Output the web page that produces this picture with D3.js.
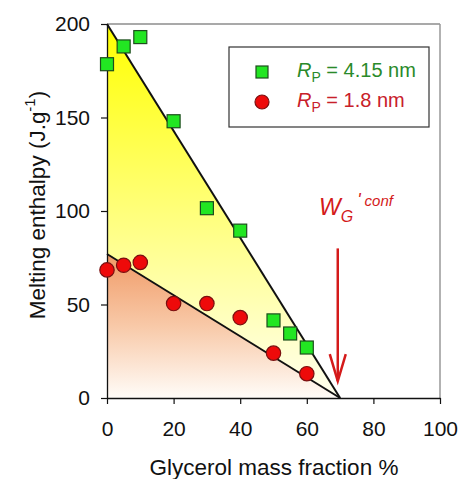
<!DOCTYPE html>
<html><head><meta charset="utf-8">
<script src="https://cdn.jsdelivr.net/npm/d3@7"></script>
<style>body{margin:0;background:#fff}svg{display:block;font-family:"Liberation Sans",Arial,sans-serif}</style>
</head><body><svg id="c" width="461" height="479"></svg>
<script>
const xTicks = [0, 20, 40, 60, 80, 100];
const yTicks = [0, 50, 100, 150, 200];
const xLarge = [0, 5, 10, 20, 30, 40, 50, 55, 60];
const yLarge = [178.5, 188, 193, 148, 101.5, 89.5, 41.5, 34.5, 27];
const xSmall = [0, 5, 10, 20, 30, 40, 50, 60];
const ySmall = [68.5, 71, 72.5, 50.5, 50.5, 43, 24, 13];
const fitLarge = [[0, 200], [70, 0]];
const fitSmall = [[0, 77], [70, 0]];
const arrowX = 69.3, arrowTop = 80, arrowTip = 9;
const seriesNames = ["4.15 nm", "1.8 nm"];

const svg = d3.select("#c");
const x = d3.scaleLinear().domain([0, 100]).range([107, 440]);
const y = d3.scaleLinear().domain([0, 200]).range([398, 24]);

const defs = svg.append("defs");
const gy = defs.append("linearGradient").attr("id","gy").attr("x1",0).attr("y1",0).attr("x2",0).attr("y2",1);
gy.append("stop").attr("offset","0%").attr("stop-color","#ffff00");
gy.append("stop").attr("offset","50%").attr("stop-color","#ffff7a");
gy.append("stop").attr("offset","100%").attr("stop-color","#fffff0");
const go = defs.append("linearGradient").attr("id","go").attr("x1",0).attr("y1",0).attr("x2",0).attr("y2",1);
go.append("stop").attr("offset","0%").attr("stop-color","#f09a66");
go.append("stop").attr("offset","50%").attr("stop-color","#f8c9a8");
go.append("stop").attr("offset","100%").attr("stop-color","#fffcf8");

const area = d3.line().x(d=>x(d[0])).y(d=>y(d[1]));
svg.append("path").attr("d", area([[0,0], ...fitLarge])+"Z").attr("fill","url(#gy)");
svg.append("path").attr("d", area([[0,0], ...fitSmall])+"Z").attr("fill","url(#go)");

// frame
svg.append("line").attr("x1",x(0)).attr("x2",x(100)).attr("y1",y(200)).attr("y2",y(200)).attr("stroke","#555").attr("stroke-width",1.2);
svg.append("line").attr("x1",x(100)).attr("x2",x(100)).attr("y1",y(200)).attr("y2",y(0)).attr("stroke","#999").attr("stroke-width",1.5);

// axes
const xa = svg.append("g").attr("transform",`translate(0,${y(0)})`)
  .call(d3.axisBottom(x).tickValues(xTicks).tickSize(6).tickPadding(17).tickSizeOuter(0));
const ya = svg.append("g").attr("transform",`translate(${x(0)},0)`)
  .call(d3.axisLeft(y).tickValues(yTicks).tickSize(6).tickPadding(11).tickSizeOuter(0));
[xa, ya].forEach(g=>{
  g.select(".domain").attr("stroke","#111").attr("stroke-width",1.3);
  g.selectAll(".tick line").attr("stroke","#111").attr("stroke-width",1.2);
  g.selectAll("text").attr("font-size",21).attr("fill","#111").attr("font-family","Liberation Sans, Arial, sans-serif");
});
xa.selectAll("text").attr("dy","0.72em");

// fit lines
svg.append("path").attr("d", area(fitLarge)).attr("stroke","#111").attr("stroke-width",2).attr("fill","none");
svg.append("path").attr("d", area(fitSmall)).attr("stroke","#111").attr("stroke-width",2).attr("fill","none");

// markers
const sq = 13;
svg.append("g").selectAll("rect").data(xLarge.map((d,i)=>[d,yLarge[i]])).join("rect")
  .attr("x",d=>x(d[0])-sq/2).attr("y",d=>y(d[1])-sq/2).attr("width",sq).attr("height",sq)
  .attr("fill","#22e622").attr("stroke","#1d4d1d").attr("stroke-width",1.2);
svg.append("g").selectAll("circle").data(xSmall.map((d,i)=>[d,ySmall[i]])).join("circle")
  .attr("cx",d=>x(d[0])).attr("cy",d=>y(d[1])).attr("r",7.2)
  .attr("fill","#ee0a0a").attr("stroke","#7a1010").attr("stroke-width",1.2);

// arrow
const red = "#d41a1a";
svg.append("line").attr("x1",x(arrowX)).attr("x2",x(arrowX)).attr("y1",y(arrowTop)).attr("y2",y(arrowTip))
  .attr("stroke",red).attr("stroke-width",2.5);
svg.append("path").attr("d",`M${x(arrowX)-8},${y(arrowTip)-27} L${x(arrowX)},${y(arrowTip)} L${x(arrowX)+8},${y(arrowTip)-27}`)
  .attr("fill","none").attr("stroke",red).attr("stroke-width",2.5);
const wt = svg.append("text").attr("x",319).attr("y",215).attr("fill",red).attr("font-style","italic");
wt.append("tspan").attr("font-size",23).text("W");
wt.append("tspan").attr("font-size",16).attr("dy",7).text("G");
wt.append("tspan").attr("font-size",18).attr("dy",-16).attr("dx",4).text("'");
wt.append("tspan").attr("font-size",15).attr("dx",4).text("conf");

// legend
svg.append("rect").attr("x",229).attr("y",47).attr("width",200).attr("height",80)
  .attr("fill","#fff").attr("stroke","#333").attr("stroke-width",1.2);
svg.append("rect").attr("x",262-6).attr("y",72-6).attr("width",12).attr("height",12)
  .attr("fill","#22e622").attr("stroke","#1d4d1d").attr("stroke-width",1.2);
svg.append("circle").attr("cx",262).attr("cy",102).attr("r",7)
  .attr("fill","#ee0a0a").attr("stroke","#7a1010").attr("stroke-width",1.2);
const legCols = ["#2a8a2a", "#c8202a"];
[0,1].forEach(i=>{
  const t = svg.append("text").attr("x",297).attr("y",[77,107][i]).attr("fill",legCols[i]).attr("font-size",20);
  t.append("tspan").attr("font-style","italic").text("R");
  t.append("tspan").attr("font-size",14).attr("dy",5).text("P");
  t.append("tspan").attr("dy",-5).text(" = " + seriesNames[i]);
});

// axis titles
svg.append("text").attr("x",274).attr("y",475).attr("text-anchor","middle").attr("font-size",22.5).attr("fill","#111")
  .text("Glycerol mass fraction %");
const yt = svg.append("text").attr("transform","translate(45,205) rotate(-90)").attr("text-anchor","middle").attr("font-size",22.5).attr("fill","#111");
yt.append("tspan").text("Melting enthalpy (J.g");
yt.append("tspan").attr("font-size",15).attr("dy",-10).text("-1");
yt.append("tspan").attr("dy",10).text(")");
</script></body></html>
